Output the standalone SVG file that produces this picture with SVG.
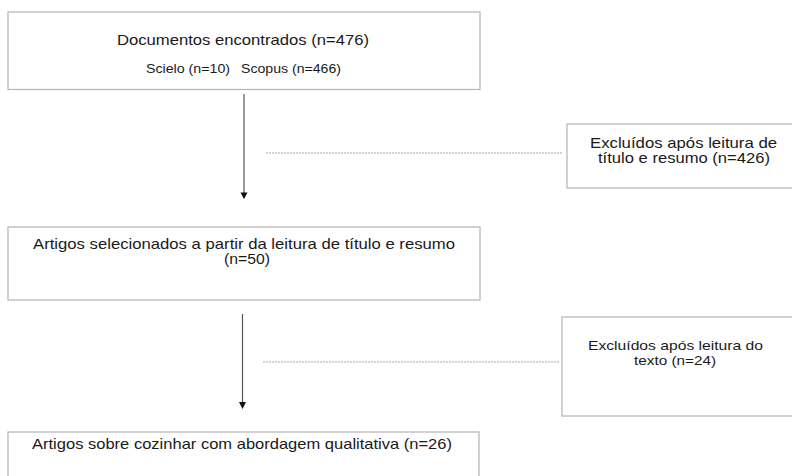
<svg xmlns="http://www.w3.org/2000/svg" width="792" height="476" viewBox="0 0 792 476">
<style>
.box{fill:#ffffff;stroke:#b3b3b3;stroke-width:1.2}
.t{font-family:"Liberation Sans",Arial,sans-serif;font-size:14.5px;fill:#1a1a1a}
.s{font-size:12.5px}
.m{font-size:13.5px}
.arrow{stroke:#555555;stroke-width:1.2;fill:none}
.head{fill:#111111}
.dash{stroke:#a8a8a8;stroke-width:1;stroke-dasharray:2 1;fill:none}
</style>
<rect width="792" height="476" fill="#ffffff"/>
<g id="connectors">
  <line class="arrow" x1="244" y1="94" x2="244" y2="193"/>
  <polygon class="head" points="240.5,192.5 247.5,192.5 244,199"/>
  <line class="arrow" x1="242.5" y1="314" x2="242.5" y2="403"/>
  <polygon class="head" points="239,402 246,402 242.5,409"/>
  <line class="dash" x1="266" y1="153" x2="563" y2="153"/>
  <line class="dash" x1="263" y1="362" x2="560" y2="362"/>
</g>
<g id="n1">
  <rect class="box" x="8" y="12" width="472" height="77.5"/>
  <text class="t" x="117" y="45" textLength="252" lengthAdjust="spacingAndGlyphs">Documentos encontrados (n=476)</text>
  <text class="t s" y="73"><tspan x="146" textLength="84" lengthAdjust="spacingAndGlyphs">Scielo (n=10)</tspan><tspan x="241" textLength="100" lengthAdjust="spacingAndGlyphs">Scopus (n=466)</tspan></text>
</g>
<g id="n2">
  <rect class="box" x="567" y="124" width="240" height="64"/>
  <text class="t" x="590" y="148" textLength="187" lengthAdjust="spacingAndGlyphs">Excluídos após leitura de</text>
  <text class="t" x="598" y="163" textLength="172" lengthAdjust="spacingAndGlyphs">título e resumo (n=426)</text>
</g>
<g id="n3">
  <rect class="box" x="8" y="227" width="472" height="73"/>
  <text class="t" x="33" y="249" textLength="422" lengthAdjust="spacingAndGlyphs">Artigos selecionados a partir da leitura de título e resumo</text>
  <text class="t" x="224" y="264" textLength="46" lengthAdjust="spacingAndGlyphs">(n=50)</text>
</g>
<g id="n4">
  <rect class="box" x="562" y="317" width="240" height="99"/>
  <text class="t m" x="588" y="350" textLength="175" lengthAdjust="spacingAndGlyphs">Excluídos após leitura do</text>
  <text class="t m" x="634" y="365" textLength="82" lengthAdjust="spacingAndGlyphs">texto (n=24)</text>
</g>
<g id="n5">
  <rect class="box" x="8" y="432" width="471" height="60"/>
  <text class="t" x="32" y="449" textLength="420" lengthAdjust="spacingAndGlyphs">Artigos sobre cozinhar com abordagem qualitativa (n=26)</text>
</g>
</svg>
